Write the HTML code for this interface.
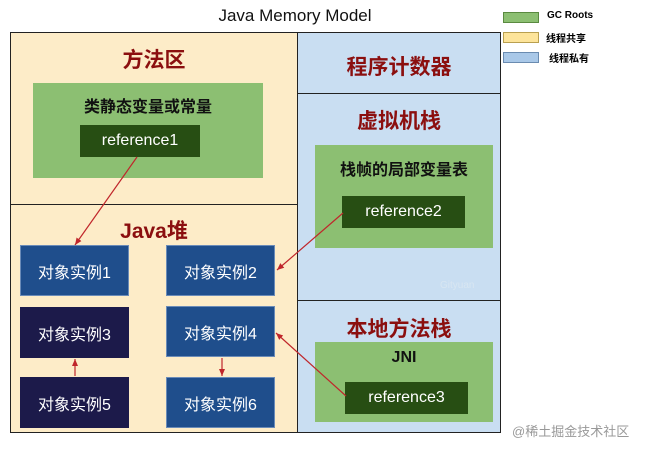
<!DOCTYPE html>
<html><head><meta charset="utf-8"><style>
body{margin:0;width:649px;height:451px;background:#fff;position:relative;overflow:hidden;font-family:"Liberation Sans","Noto Sans CJK SC",sans-serif}
.a{position:absolute;box-sizing:border-box}
.t{position:absolute;text-align:center;white-space:nowrap}
.red{color:#8b0f0f;font-weight:bold;font-size:21px}
.g{background:#8cbf72}
.dg{background:#274e13;color:#fff;font-size:16px;display:flex;align-items:center;justify-content:center}
.ob{background:#1f4e8c;color:#fff;font-size:16px;display:flex;align-items:center;justify-content:center;border:1px solid #6a8bb8}
.od{background:#1c1a4a;color:#fff;font-size:16px;display:flex;align-items:center;justify-content:center}
.bk{font-weight:bold;font-size:16px;color:#111}
</style></head><body>
<div class="t" style="left:190px;top:6px;width:210px;font-size:17px;color:#111">Java Memory Model</div>
<div class="a" style="left:503px;top:12px;width:36px;height:11px;background:#8cbf72;border:1px solid #5a8a40"></div>
<div class="t" style="left:547px;top:10px;font-size:10px;font-weight:bold">GC Roots</div>
<div class="a" style="left:503px;top:32px;width:36px;height:11px;background:#fde49a;border:1px solid #b9a050"></div>
<div class="t" style="left:546px;top:30px;font-size:10px;font-weight:bold">线程共享</div>
<div class="a" style="left:503px;top:52px;width:36px;height:11px;background:#a9c8e8;border:1px solid #6a8bb0"></div>
<div class="t" style="left:549px;top:50px;font-size:10px;font-weight:bold">线程私有</div>

<div class="a" style="left:10px;top:32px;width:288px;height:173px;background:#fdecc8;border:1px solid #222"></div>
<div class="a" style="left:10px;top:204px;width:288px;height:229px;background:#fdecc8;border:1px solid #222"></div>
<div class="a" style="left:297px;top:32px;width:204px;height:62px;background:#c9def2;border:1px solid #222"></div>
<div class="a" style="left:297px;top:93px;width:204px;height:208px;background:#c9def2;border:1px solid #222"></div>
<div class="a" style="left:297px;top:300px;width:204px;height:133px;background:#c9def2;border:1px solid #222"></div>

<div class="t red" style="left:10px;top:44px;width:288px">方法区</div>
<div class="a g" style="left:33px;top:83px;width:230px;height:95px"></div>
<div class="t bk" style="left:33px;top:93px;width:230px">类静态变量或常量</div>
<div class="a dg" style="left:80px;top:125px;width:120px;height:32px">reference1</div>

<div class="t red" style="left:297px;top:51px;width:204px">程序计数器</div>
<div class="t red" style="left:297px;top:105px;width:204px">虚拟机栈</div>
<div class="a g" style="left:315px;top:145px;width:178px;height:103px"></div>
<div class="t bk" style="left:315px;top:156px;width:178px">栈帧的局部变量表</div>
<div class="a dg" style="left:342px;top:196px;width:123px;height:32px">reference2</div>
<div class="t" style="left:440px;top:280px;font-size:10px;color:#d8e6f2">Gityuan</div>

<div class="t red" style="left:297px;top:313px;width:204px">本地方法栈</div>
<div class="a g" style="left:315px;top:342px;width:178px;height:80px"></div>
<div class="t bk" style="left:315px;top:349px;width:178px">JNI</div>
<div class="a dg" style="left:345px;top:382px;width:123px;height:32px">reference3</div>

<div class="t red" style="left:10px;top:215px;width:288px">Java堆</div>
<div class="a ob" style="left:20px;top:245px;width:109px;height:51px">对象实例1</div>
<div class="a ob" style="left:166px;top:245px;width:109px;height:51px">对象实例2</div>
<div class="a od" style="left:20px;top:307px;width:109px;height:51px">对象实例3</div>
<div class="a ob" style="left:166px;top:306px;width:109px;height:51px">对象实例4</div>
<div class="a od" style="left:20px;top:377px;width:109px;height:51px">对象实例5</div>
<div class="a ob" style="left:166px;top:377px;width:109px;height:51px">对象实例6</div>

<svg class="a" style="left:0;top:0" width="649" height="451">
<defs><marker id="m" markerWidth="8" markerHeight="8" refX="7" refY="4" orient="auto" markerUnits="userSpaceOnUse"><path d="M0,1 L7,4 L0,7 z" fill="#c0262b"/></marker></defs>
<g stroke="#c0262b" stroke-width="1.2" fill="none" marker-end="url(#m)">
<line x1="137" y1="157" x2="75" y2="245"/>
<line x1="343" y1="213" x2="277" y2="270"/>
<line x1="346" y1="396" x2="276" y2="333"/>
<line x1="75" y1="376" x2="75" y2="359"/>
<line x1="222" y1="358" x2="222" y2="376"/>
</g></svg>
<div class="t" style="left:512px;top:421px;font-size:13px;color:#999">@稀土掘金技术社区</div>
</body></html>
